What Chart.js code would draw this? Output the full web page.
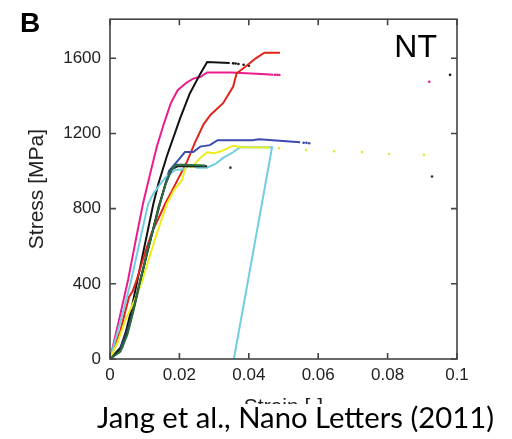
<!DOCTYPE html>
<html><head><meta charset="utf-8">
<script src="https://cdn.jsdelivr.net/npm/chart.js@4.4.1/dist/chart.umd.min.js"></script>
<style>html,body{margin:0;padding:0;background:#fff}#wrap{width:512px;height:439px;position:relative}</style>
</head><body><div id="wrap"><canvas id="c"></canvas></div>
<script>
// ---- tick labels ----
const xTicks = [0, 0.02, 0.04, 0.06, 0.08, 0.1];
const xTickLabels = ['0', '0.02', '0.04', '0.06', '0.08', '0.1'];
const yTicks = [0, 400, 800, 1200, 1600];
const yTickLabels = ['0', '400', '800', '1200', '1600'];

// ---- series (strain [-], stress [MPa]) ----
const magentaX = [0, 0.003, 0.0052, 0.0075, 0.0095, 0.0115, 0.0135, 0.0155, 0.0175, 0.0195, 0.022, 0.024, 0.026, 0.028, 0.035, 0.045, 0.047];
const magentaY = [0, 240, 420, 640, 826, 980, 1130, 1250, 1360, 1430, 1470, 1492, 1500, 1525, 1525, 1515, 1512];
const magentaDotX = [0.0475, 0.0482, 0.0488, 0.092];
const magentaDotY = [1512, 1512, 1511, 1475];

const blackX = [0, 0.003, 0.0045, 0.006, 0.0078, 0.0095, 0.0125, 0.0139, 0.0164, 0.0202, 0.023, 0.026, 0.028, 0.0345];
const blackY = [0, 60, 140, 250, 410, 560, 826, 930, 1080, 1280, 1413, 1517, 1580, 1575];
const blackDotX = [0.0355, 0.0362, 0.037, 0.0385, 0.040, 0.098];
const blackDotY = [1573, 1572, 1570, 1566, 1560, 1512];

const redX = [0, 0.003, 0.0045, 0.0055, 0.0065, 0.0075, 0.010, 0.012, 0.0159, 0.018, 0.0222, 0.0245, 0.027, 0.029, 0.0326, 0.0355, 0.0365, 0.039, 0.042, 0.0445, 0.049];
const redY = [0, 150, 260, 330, 360, 410, 560, 670, 826, 900, 1050, 1153, 1250, 1300, 1361, 1450, 1520, 1555, 1600, 1630, 1630];

const blueX = [0, 0.003, 0.005, 0.007, 0.0088, 0.011, 0.0144, 0.017, 0.0193, 0.0216, 0.024, 0.026, 0.0288, 0.031, 0.041, 0.043, 0.0548];
const blueY = [0, 50, 150, 280, 410, 590, 826, 1000, 1050, 1101, 1101, 1130, 1138, 1164, 1164, 1169, 1153];
const blueDotX = [0.0558, 0.0566, 0.0574];
const blueDotY = [1151, 1150, 1148];

const yellowX = [0, 0.002, 0.0043, 0.007, 0.0092, 0.011, 0.013, 0.0164, 0.0185, 0.0207, 0.022, 0.0236, 0.026, 0.028, 0.030, 0.032, 0.0355, 0.038, 0.046];
const yellowY = [0, 80, 200, 310, 410, 520, 640, 826, 900, 950, 1030, 1020, 1070, 1100, 1095, 1105, 1135, 1127, 1125];
const yellowDotX = [0.0487, 0.0565, 0.0646, 0.0726, 0.0804, 0.0905];
const yellowDotY = [1122, 1112, 1106, 1101, 1091, 1086];

const cyanX = [0, 0.003, 0.006, 0.0085, 0.011, 0.0125, 0.0145, 0.016, 0.0187, 0.021, 0.023, 0.025, 0.028, 0.0305, 0.0326, 0.0355, 0.0375, 0.0467, 0.0357];
const cyanY = [0, 200, 410, 620, 826, 880, 930, 966, 1005, 1010, 1030, 1018, 1018, 1040, 1070, 1100, 1127, 1127, 0];

const greenX = [0, 0.003, 0.005, 0.0068, 0.0086, 0.011, 0.0144, 0.016, 0.0175, 0.019, 0.021, 0.0275];
const greenY = [0, 40, 130, 260, 410, 590, 826, 930, 1000, 1034, 1034, 1030];

const darkX = [0, 0.0035, 0.0055, 0.0072, 0.009, 0.0115, 0.014, 0.016, 0.0178, 0.0195, 0.028];
const darkY = [0, 60, 170, 300, 440, 620, 810, 930, 1010, 1025, 1025];
const darkDotX = [0.0347, 0.0928];
const darkDotY = [1018, 971];

const pts = (xs, ys) => xs.map((x, i) => ({ x: x, y: ys[i] }));
const line = (xs, ys, color) => ({ data: pts(xs, ys), showLine: true, borderColor: color, backgroundColor: color, borderWidth: 2, pointRadius: 0, tension: 0 });
const dots = (xs, ys, color) => ({ data: pts(xs, ys), showLine: false, borderColor: color, backgroundColor: color, pointRadius: 1.3, borderWidth: 0 });

const TICK_FONT = { family: 'Liberation Sans', size: 17 };
const TITLE_FONT = { family: 'Liberation Sans', size: 21 };

const decor = {
  id: 'decor',
  afterDatasetsDraw(chart) {
    const { ctx, chartArea: a, scales } = chart;
    ctx.save();
    ctx.strokeStyle = '#444';
    ctx.lineWidth = 1.6;
    ctx.strokeRect(a.left, a.top, a.right - a.left, a.bottom - a.top);
    ctx.beginPath();
    const L = 6;
    xTicks.forEach(v => {
      const px = scales.x.getPixelForValue(v);
      ctx.moveTo(px, a.bottom); ctx.lineTo(px, a.bottom - L);
      ctx.moveTo(px, a.top); ctx.lineTo(px, a.top + L);
    });
    yTicks.forEach(v => {
      const py = scales.y.getPixelForValue(v);
      ctx.moveTo(a.left, py); ctx.lineTo(a.left + L, py);
      ctx.moveTo(a.right, py); ctx.lineTo(a.right - L, py);
    });
    ctx.stroke();
    ctx.restore();
  },
  afterDraw(chart) {
    const { ctx, chartArea: a } = chart;
    ctx.save();
    ctx.fillStyle = '#000';
    ctx.textBaseline = 'alphabetic';
    ctx.font = 'bold 28px "Liberation Sans"';
    ctx.fillText('B', 20, 32);
    ctx.font = '32px "Liberation Sans"';
    ctx.textAlign = 'right';
    ctx.fillText('NT', a.right - 20, 57);
    // caption
    ctx.fillStyle = '#fff';
    ctx.fillRect(80, 404, 432, 35);
    ctx.textAlign = 'left';
    const cap = 'Jang et al., Nano Letters (2011)';
    ctx.font = '24px Lato';
    const w = ctx.measureText(cap).width;
    const fs = 24 * 397 / w;
    ctx.font = fs.toFixed(2) + 'px Lato';
    ctx.fillStyle = '#000';
    ctx.fillText(cap, 97, 428);
    ctx.restore();
  }
};

new Chart(document.getElementById('c'), {
  type: 'scatter',
  data: {
    datasets: [
      line(greenX, greenY, '#2a6e3f'),
      line(darkX, darkY, '#222222'),
      line(yellowX, yellowY, '#eded1c'),
      dots(yellowDotX, yellowDotY, '#e6e640'),
      line(cyanX, cyanY, '#72cde0'),
      line(blueX, blueY, '#3b4bb0'),
      dots(blueDotX, blueDotY, '#3b4bb0'),
      line(redX, redY, '#e2231a'),
      line(blackX, blackY, '#111111'),
      dots(blackDotX, blackDotY, '#111111'),
      line(magentaX, magentaY, '#ec1c8c'),
      dots(magentaDotX, magentaDotY, '#ec1c8c'),
      dots(darkDotX, darkDotY, '#333333')
    ]
  },
  options: {
    responsive: true,
    maintainAspectRatio: false,
    animation: false,
    layout: { padding: { left: 0, right: 55, top: 11, bottom: 0 } },
    plugins: { legend: { display: false }, tooltip: { enabled: false } },
    scales: {
      x: {
        type: 'linear', min: 0, max: 0.1,
        afterBuildTicks: s => { s.ticks = xTicks.map(v => ({ value: v })); },
        afterFit: s => { s.height = 80; },
        ticks: { callback: (v, i) => xTickLabels[i], font: TICK_FONT, color: '#222', padding: 6, maxRotation: 0, autoSkip: false },
        grid: { display: false, drawTicks: false },
        border: { display: false },
        title: { display: true, text: 'Strain [-]', font: TITLE_FONT, color: '#222', padding: { top: 0, bottom: 19 } }
      },
      y: {
        type: 'linear', min: 0, max: 1808,
        afterBuildTicks: s => { s.ticks = yTicks.map(v => ({ value: v })); },
        afterFit: s => { s.width = 110; },
        ticks: { callback: (v, i) => yTickLabels[i], font: TICK_FONT, color: '#222', padding: 9, autoSkip: false },
        grid: { display: false, drawTicks: false },
        border: { display: false },
        title: { display: true, text: 'Stress [MPa]', font: TITLE_FONT, color: '#222', padding: { top: 25, bottom: 0 } }
      }
    }
  },
  plugins: [decor]
});
</script>
</body></html>
